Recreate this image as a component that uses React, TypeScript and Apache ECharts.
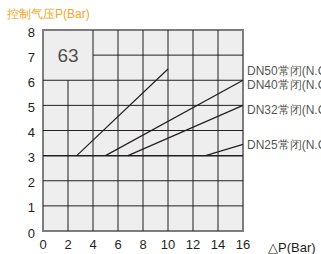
import React, { useEffect, useRef } from "react";
import * as echarts from "echarts";

const xTicks = [0, 2, 4, 6, 8, 10, 12, 14, 16];
const yTicks = [0, 1, 2, 3, 4, 5, 6, 7, 8];
const modelLabel = "63";
const modelLabelPos = [2, 7];
// blank box for the model label: x from 0 to 4, y from 6 to 8
const boxXMax = 4;
const boxYMin = 6;

const seriesNames = ["DN50常闭(N.C)", "DN40常闭(N.C)", "DN32常闭(N.C)", "DN25常闭(N.C)"];
const dn50 = [[2.7, 3], [10, 6.45]];
const dn40 = [[5, 3], [16, 6]];
const dn32 = [[6.8, 3], [16, 5]];
const dn25 = [[13, 3], [16, 3.45]];
const curves = [dn50, dn40, dn32, dn25];
const labelY = [6.38, 5.82, 4.83, 3.41];

const FONT = "Liberation Sans, Arial, sans-serif";

export default function App() {
  const ref = useRef<HTMLDivElement>(null);
  useEffect(() => {
    if (!ref.current) return;
    const chart = echarts.init(ref.current, null, { renderer: "svg" });
    const gridSeries: any[] = [];
    const xMin = xTicks[0];
    const xMax = xTicks[xTicks.length - 1];
    const yMin = yTicks[0];
    const yMax = yTicks[yTicks.length - 1];
    xTicks.slice(1, -1).forEach((x) => {
      const top = x < boxXMax ? boxYMin : yMax;
      gridSeries.push({
        type: "line",
        data: [[x, yMin], [x, top]],
        symbol: "none",
        silent: true,
        z: 1,
        lineStyle: { color: "#231f20", width: 1 },
      });
    });
    yTicks.slice(1, -1).forEach((y) => {
      const start = y > boxYMin ? boxXMax : xMin;
      gridSeries.push({
        type: "line",
        data: [[start, y], [xMax, y]],
        symbol: "none",
        silent: true,
        z: 1,
        lineStyle: { color: "#231f20", width: y === 3 ? 1.5 : 1 },
      });
    });
    const curveSeries = curves.map((c, i) => ({
      type: "line",
      name: seriesNames[i],
      data: c,
      symbol: "none",
      silent: true,
      z: 3,
      lineStyle: { color: "#231f20", width: 1.2 },
    }));
    chart.setOption({
      animation: false,
      title: {
        text: "控制气压P(Bar)",
        left: 7,
        top: 7,
        padding: 0,
        textStyle: { color: "#f5a623", fontSize: 12, fontWeight: "normal", fontFamily: FONT, lineHeight: 14 },
      },
      grid: {
        left: 43,
        right: 78,
        top: 30,
        bottom: 22,
        show: true,
        backgroundColor: "#edeeed",
        borderColor: "#7d7d7d",
        borderWidth: 2,
      },
      xAxis: {
        type: "value",
        min: 0,
        max: 16,
        interval: 2,
        name: "△P(Bar)",
        nameLocation: "end",
        nameGap: 25,
        nameTextStyle: {
          color: "#231f20",
          fontSize: 13,
          fontFamily: FONT,
          verticalAlign: "top",
          padding: [10, 0, 0, 0],
        },
        axisLine: { show: false },
        axisTick: { show: false },
        splitLine: { show: false },
        axisLabel: { color: "#231f20", fontSize: 13, fontFamily: FONT, margin: 7 },
      },
      yAxis: {
        type: "value",
        min: 0,
        max: 8,
        interval: 1,
        axisLine: { show: false },
        axisTick: { show: false },
        splitLine: { show: false },
        axisLabel: {
          color: "#231f20",
          fontSize: 13,
          fontFamily: FONT,
          margin: 8,
          verticalAlign: "top",
          padding: [-5, 0, 0, 0],
          lineHeight: 14,
        },
      },
      series: [
        ...gridSeries,
        ...curveSeries,
        {
          type: "scatter",
          data: labelY.map((y, i) => ({ value: [xMax, y], name: seriesNames[i] })),
          symbolSize: 0,
          silent: true,
          z: 4,
          label: {
            show: true,
            position: "right",
            distance: 4,
            formatter: (p: any) => p.name,
            color: "#231f20",
            fontSize: 12,
            fontFamily: FONT,
          },
        },
        {
          type: "scatter",
          data: [{ value: modelLabelPos, name: modelLabel }],
          symbolSize: 0,
          silent: true,
          z: 4,
          label: {
            show: true,
            position: "inside",
            formatter: (p: any) => p.name,
            color: "#231f20",
            fontSize: 19,
            fontFamily: FONT,
          },
        },
      ],
    });
    return () => chart.dispose();
  }, []);
  return (
    <div
      ref={ref}
      style={{ position: "fixed", left: 0, top: 0, width: 321, height: 254, background: "#fff", overflow: "hidden" }}
    />
  );
}
